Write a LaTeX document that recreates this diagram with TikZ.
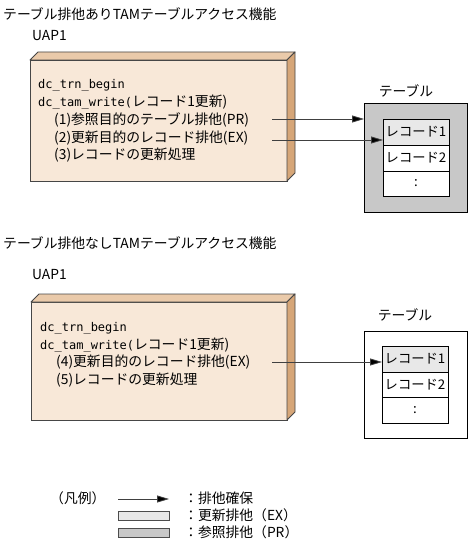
\documentclass[tikz,border=0pt]{standalone}
\usepackage{fontspec}
\setmainfont{Noto Sans CJK JP}
\newfontfamily\cmono{DejaVu Sans Mono}
\usetikzlibrary{arrows.meta}
\definecolor{frontc}{RGB}{248,232,216}
\definecolor{topc}{RGB}{234,202,170}
\definecolor{sidec}{RGB}{214,166,120}
\definecolor{edgec}{RGB}{70,70,70}
\definecolor{prc}{RGB}{200,200,200}
\definecolor{exc}{RGB}{232,232,232}
\newcommand{\cm}[1]{{\cmono\fontsize{12}{14}\selectfont #1}}
\begin{document}
\begin{tikzpicture}[x=1pt,y=-1pt,
  font=\fontsize{13.8}{16}\selectfont,
  txt/.style={anchor=west,inner sep=0pt},
  front/.style={draw=edgec,fill=frontc,line width=0.9pt,anchor=north west,inner sep=0pt,outer sep=0pt},
  face/.style={draw=edgec,line width=0.9pt,line join=round},
  tablebox/.style={draw=black,line width=0.7pt,anchor=north west,inner sep=0pt,outer sep=0pt,minimum width=103pt},
  cell/.style={draw=black,line width=0.7pt,fill=white,anchor=north west,inner sep=0pt,outer sep=0pt,minimum width=66pt,font=\fontsize{13.3}{15}\selectfont},
  arr/.style={draw=black!75,line width=0.8pt,-{Triangle[length=12pt,width=7pt,fill=black]}},
  legbox/.style={draw=black!70,line width=0.7pt,anchor=north west,inner sep=0pt,outer sep=0pt,minimum width=51pt,minimum height=9pt}]
\useasboundingbox (0,0) rectangle (471,545);

% ---------- top section ----------
\node[txt] (title1) at (3,14) {テーブル排他ありTAMテーブルアクセス機能};
\node[txt] (uapA) at (32,36) {UAP1};
\node[front,minimum width=257pt,minimum height=121pt] (boxA) at (30,60) {};
\filldraw[face,fill=topc] (boxA.north west) -- ++(8,-8) -- ++(257,0) -- (boxA.north east) -- cycle;
\filldraw[face,fill=sidec] (boxA.north east) -- ++(8,-8) -- ++(0,121) -- (boxA.south east) -- cycle;
\node[txt] (a1) at (38,85) {\cm{dc\_trn\_begin}};
\node[txt] (a2) at (38,102) {\cm{dc\_tam\_write(}レコード1更新)};
\node[txt] (a3) at (54,120) {(1)参照目的のテーブル排他(PR)};
\node[txt] (a4) at (54,138) {(2)更新目的のレコード排他(EX)};
\node[txt] (a5) at (54,155) {(3)レコードの更新処理};

\node (tlabA) at (406,91) {テーブル};
\node[tablebox,fill=prc,minimum height=109pt] (tblA) at (364,103) {};
\node[cell,fill=exc,minimum height=26pt] (rA1) at (383,119) {レコード1};
\node[cell,minimum height=26pt] (rA2) at (383,145) {レコード2};
\node[cell,minimum height=25pt] (rA3) at (383,171) {:};

\coordinate (sA1) at (272,119);
\coordinate (sA2) at (272,140);
\draw[arr] (sA1) -- (sA1 -| tblA.west);
\draw[arr] (sA2) -- (sA2 -| rA1.west);

% ---------- bottom section ----------
\node[txt] (title2) at (3,243) {テーブル排他なしTAMテーブルアクセス機能};
\node[txt] (uapB) at (32,275) {UAP1};
\node[front,minimum width=256pt,minimum height=118pt] (boxB) at (31,302) {};
\filldraw[face,fill=topc] (boxB.north west) -- ++(8,-8) -- ++(256,0) -- (boxB.north east) -- cycle;
\filldraw[face,fill=sidec] (boxB.north east) -- ++(8,-8) -- ++(0,118) -- (boxB.south east) -- cycle;
\node[txt] (b1) at (40,328) {\cm{dc\_trn\_begin}};
\node[txt] (b2) at (40,345) {\cm{dc\_tam\_write(}レコード1更新)};
\node[txt] (b3) at (56,362) {(4)更新目的のレコード排他(EX)};
\node[txt] (b4) at (56,380) {(5)レコードの更新処理};

\node (tlabB) at (405,315) {テーブル};
\node[tablebox,fill=white,minimum height=107pt] (tblB) at (364,331) {};
\node[cell,fill=exc,minimum height=26pt] (rB1) at (382,346) {レコード1};
\node[cell,minimum height=25pt] (rB2) at (382,372) {レコード2};
\node[cell,minimum height=26pt] (rB3) at (382,397) {:};

\coordinate (sB1) at (272,362);
\draw[arr] (sB1) -- (sB1 -| rB1.west);

% ---------- legend ----------
\node[txt] (leg) at (50,498) {（凡例）};
\coordinate (la) at (118,499);
\coordinate (lb) at (169,499);
\draw[arr] (la) -- (lb);
\node[txt] (lt1) at (184,498) {：排他確保};
\node[legbox,fill=exc] (lbx1) at (118,511) {};
\node[txt] (lt2) at (184,515) {：更新排他（EX）};
\node[legbox,fill=prc] (lbx2) at (118,528) {};
\node[txt] (lt3) at (184,532) {：参照排他（PR）};
\end{tikzpicture}
\end{document}
